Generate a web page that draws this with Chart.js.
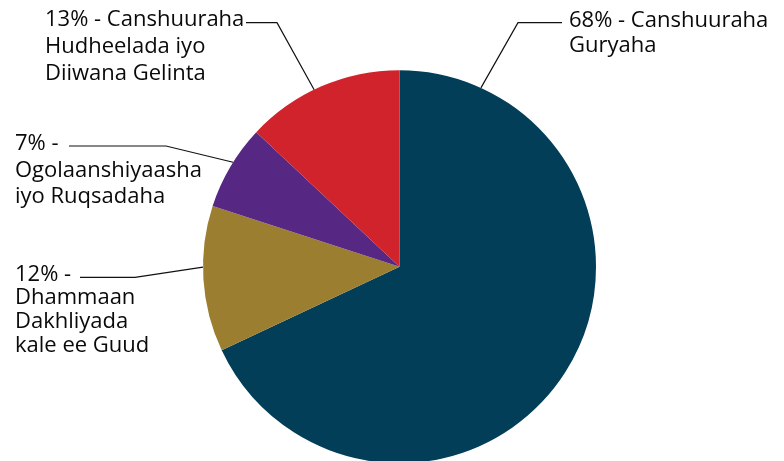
<!DOCTYPE html>
<html>
<head>
<meta charset="utf-8">
<script src="https://cdn.jsdelivr.net/npm/chart.js@4.4.0/dist/chart.umd.min.js"></script>
<style>
  html, body { margin: 0; padding: 0; background: #ffffff; overflow: hidden; }
  #wrap { position: relative; width: 784px; height: 461px; }
</style>
</head>
<body>
<div id="wrap"><canvas id="c"></canvas></div>
<script>
// ---- data ----
const categories = [
  'Canshuuraha Guryaha',
  'Dhammaan Dakhliyada kale ee Guud',
  'Ogolaanshiyaasha iyo Ruqsadaha',
  'Canshuuraha Hudheelada iyo Diiwana Gelinta'
];
const values = [68, 12, 7, 13];
const sliceColors = ['#023e58', '#9c7e30', '#562883', '#d1232b'];
const labelLines = [
  ['68% - Canshuuraha', 'Guryaha'],
  ['12% -', 'Dhammaan', 'Dakhliyada', 'kale ee Guud'],
  ['7% -', 'Ogolaanshiyaasha', 'iyo Ruqsadaha'],
  ['13% - Canshuuraha', 'Hudheelada iyo', 'Diiwana Gelinta']
];

// ---- label layout (positions only) ----
const labelLayout = [
  { frac: 0.10, elbow: [518, 22.7], end: [562, 22.7], textX: 569, baseY: 26.5, lh: 25.5 },
  { frac: 0.58, elbow: [135, 277.3], end: [80, 277.3], textX: 15, baseY: 280.7, lh: 23.7 },
  { frac: 0.56, elbow: [166, 146], end: [69, 146], textX: 15, baseY: 150, lh: 26.5 },
  { frac: 0.45, elbow: [277, 22.7], end: [246, 22.7], textX: 45, baseY: 26, lh: 27 }
];

const FONT = '22px "Open Sans", "Noto Sans", sans-serif';

const leaderPlugin = {
  id: 'leaders',
  afterDraw(chart) {
    const ctx = chart.ctx;
    const meta = chart.getDatasetMeta(0);
    ctx.save();
    meta.data.forEach((arc, i) => {
      const L = labelLayout[i];
      const p = arc.getProps(['x', 'y', 'startAngle', 'endAngle', 'outerRadius'], true);
      const a = p.startAngle + L.frac * (p.endAngle - p.startAngle);
      const ax = p.x + Math.cos(a) * p.outerRadius;
      const ay = p.y + Math.sin(a) * p.outerRadius;
      ctx.beginPath();
      ctx.strokeStyle = '#111111';
      ctx.lineWidth = 1.2;
      ctx.moveTo(ax, ay);
      ctx.lineTo(L.elbow[0], L.elbow[1]);
      ctx.lineTo(L.end[0], L.end[1]);
      ctx.stroke();
      ctx.fillStyle = '#0a0a0a';
      ctx.font = FONT;
      ctx.textAlign = 'left';
      ctx.textBaseline = 'alphabetic';
      labelLines[i].forEach((t, k) => {
        ctx.fillText(t, L.textX, L.baseY + k * L.lh);
      });
    });
    ctx.restore();
  }
};

new Chart(document.getElementById('c'), {
  type: 'pie',
  data: {
    labels: categories,
    datasets: [{
      data: values,
      backgroundColor: sliceColors,
      borderWidth: 0,
      hoverOffset: 0,
      radius: 196.5
    }]
  },
  options: {
    responsive: true,
    maintainAspectRatio: false,
    animation: false,
    layout: { padding: { left: 203, right: 188, top: 72.4, bottom: 0 } },
    plugins: {
      legend: { display: false },
      tooltip: { enabled: false }
    }
  },
  plugins: [leaderPlugin]
});
</script>
</body>
</html>
